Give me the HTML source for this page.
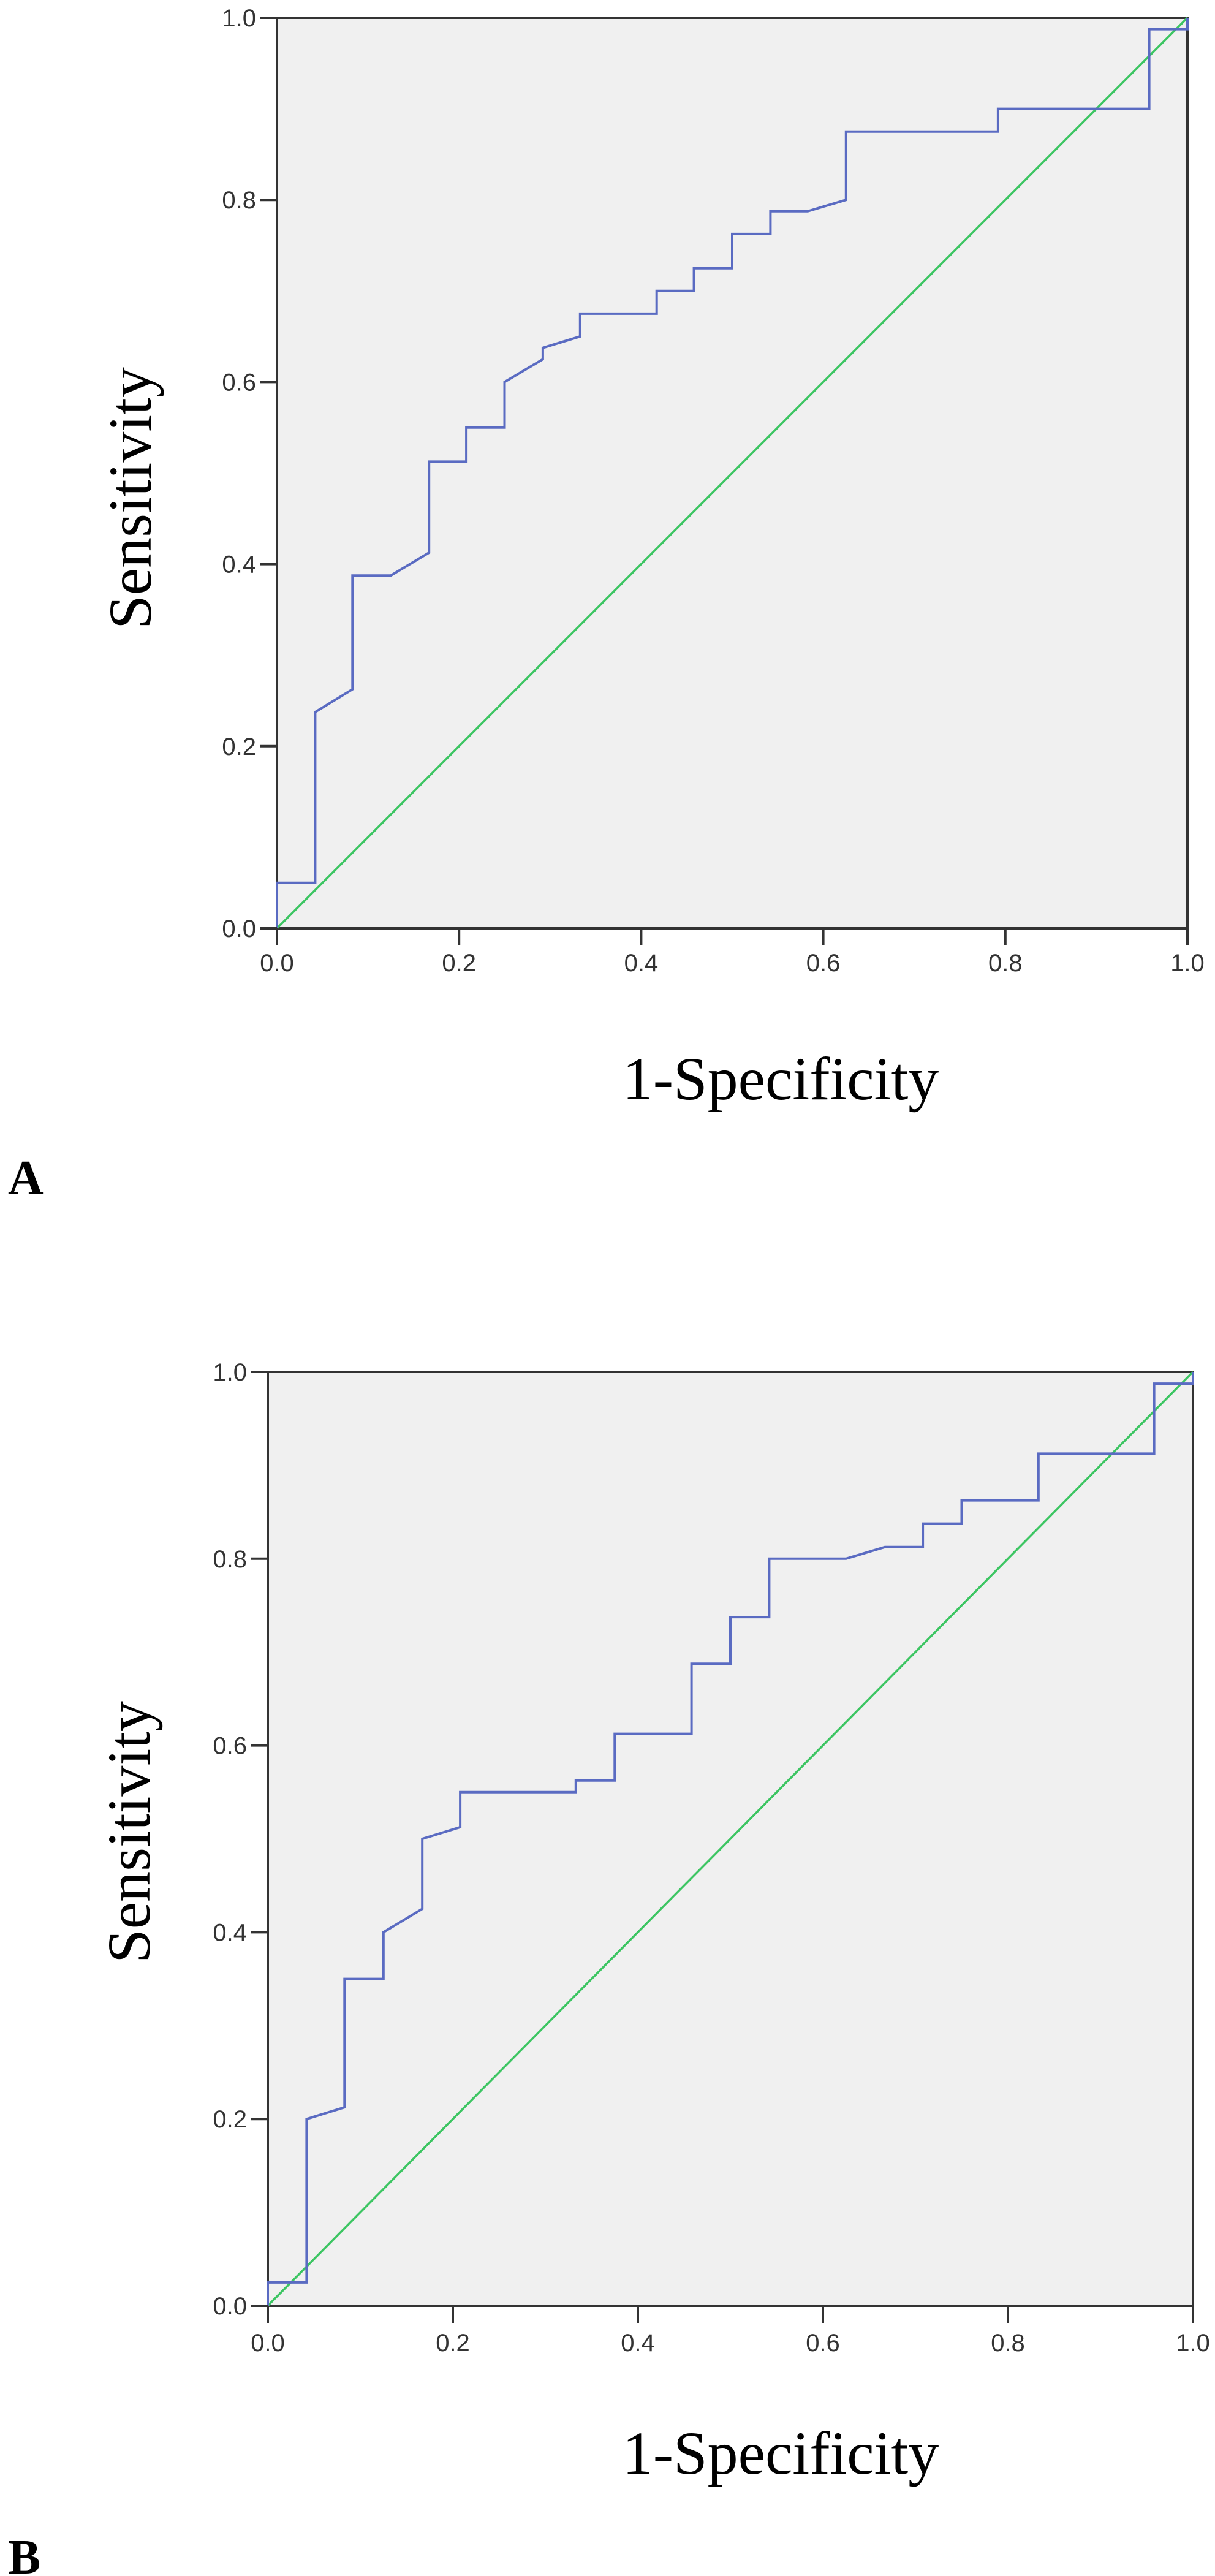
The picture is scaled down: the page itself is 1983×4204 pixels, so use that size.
<!DOCTYPE html>
<html><head><meta charset="utf-8"><style>
html,body{margin:0;padding:0;background:#fff;}
svg{display:block;}
</style></head><body>
<svg id="fig" width="1983" height="4204" viewBox="0 0 1983 4204" xmlns="http://www.w3.org/2000/svg"></svg>
<script>
// Chart A data
const ticksA = [0, 0.2, 0.4, 0.6, 0.8, 1.0];
const tickLabelsA = ["0.0", "0.2", "0.4", "0.6", "0.8", "1.0"];
const rocAx = [0,0,0.042,0.042,0.083,0.083,0.125,0.167,0.167,0.208,0.208,0.25,0.25,0.292,0.292,0.333,0.333,0.417,0.417,0.458,0.458,0.5,0.5,0.542,0.542,0.583,0.625,0.625,0.792,0.792,0.958,0.958,1,1];
const rocAy = [0,0.05,0.05,0.2375,0.2625,0.3875,0.3875,0.4125,0.5125,0.5125,0.55,0.55,0.6,0.625,0.6375,0.65,0.675,0.675,0.7,0.7,0.725,0.725,0.7625,0.7625,0.7875,0.7875,0.8,0.875,0.875,0.9,0.9,0.9875,0.9875,1];
// Chart B data
const ticksB = [0, 0.2, 0.4, 0.6, 0.8, 1.0];
const tickLabelsB = ["0.0", "0.2", "0.4", "0.6", "0.8", "1.0"];
const rocBx = [0,0,0.042,0.042,0.083,0.083,0.125,0.125,0.167,0.167,0.208,0.208,0.333,0.333,0.375,0.375,0.458,0.458,0.5,0.5,0.542,0.542,0.625,0.667,0.708,0.708,0.75,0.75,0.833,0.833,0.958,0.958,1,1];
const rocBy = [0,0.025,0.025,0.2,0.2125,0.35,0.35,0.4,0.425,0.5,0.5125,0.55,0.55,0.5625,0.5625,0.6125,0.6125,0.6875,0.6875,0.7375,0.7375,0.8,0.8,0.8125,0.8125,0.8375,0.8375,0.8625,0.8625,0.9125,0.9125,0.9875,0.9875,1];
const refX = [0, 1];
const refY = [0, 1];

const NS = "http://www.w3.org/2000/svg";
const svg = document.getElementById("fig");
function mk(tag, attrs, parent) {
  const e = document.createElementNS(NS, tag);
  for (const k in attrs) e.setAttribute(k, attrs[k]);
  (parent || svg).appendChild(e);
  return e;
}

function drawChart(id, L, R, T, B, ticks, labels, xs, ys, xTitle, yTitleX, yTitleY, panel, panelY, xLabBase) {
  const g = mk("g", {});
  
  
  const sx = v => L + v * (R - L);
  const sy = v => B - v * (B - T);
  const bg = mk("rect", {x: L, y: T, width: R - L, height: B - T, fill: "#f0f0f0", stroke: "#333", "stroke-width": 4}, g);
  
  
  // reference line
  const ref = mk("line", {x1: sx(refX[0]), y1: sy(refY[0]), x2: sx(refX[1]), y2: sy(refY[1]), stroke: "#3cc562", "stroke-width": 3.5}, g);
  
  
  // roc curve
  const pts = xs.map((x, i) => sx(x).toFixed(1) + "," + sy(ys[i]).toFixed(1)).join(" ");
  const curve = mk("polyline", {points: pts, fill: "none", stroke: "#5a6bc2", "stroke-width": 4, "stroke-linejoin": "miter"}, g);
  
  
  // axes ticks + labels
  ticks.forEach((t, i) => {
    const yt = mk("line", {x1: L - 28, y1: sy(t), x2: L, y2: sy(t), stroke: "#333", "stroke-width": 4}, g);
    
    
    const yl = mk("text", {x: L - 34, y: sy(t) + 14, "text-anchor": "end", "font-family": "Liberation Sans, Arial, sans-serif", "font-size": 40, fill: "#333"}, g);
    yl.textContent = labels[i];
    
    
    const xt = mk("line", {x1: sx(t), y1: B, x2: sx(t), y2: B + 28, stroke: "#333", "stroke-width": 4}, g);
    
    
    const xl = mk("text", {x: sx(t), y: B + xLabBase, "text-anchor": "middle", "font-family": "Liberation Sans, Arial, sans-serif", "font-size": 40, fill: "#333"}, g);
    xl.textContent = labels[i];
    
    
  });
  const xtTitle = mk("text", {x: 1274, y: xTitle, "text-anchor": "middle", "font-family": "Liberation Serif, Times New Roman, serif", "font-size": 100, fill: "#000"}, g);
  xtTitle.textContent = "1-Specificity";
  
  
  const ytTitle = mk("text", {x: 0, y: 0, transform: "translate(" + yTitleX + "," + yTitleY + ") rotate(-90)", "text-anchor": "middle", "font-family": "Liberation Serif, Times New Roman, serif", "font-size": 100, fill: "#000"}, g);
  ytTitle.textContent = "Sensitivity";
  
  
  const pl = mk("text", {x: 13, y: panelY, "font-family": "Liberation Serif, Times New Roman, serif", "font-size": 80, "font-weight": "bold", fill: "#000"}, g);
  pl.textContent = panel;
  
  
}

drawChart("a", 452, 1938, 29, 1515, ticksA, tickLabelsA, rocAx, rocAy, 1794, 246, 813, "A", 1949, 70);
drawChart("b", 437, 1947, 2239, 3763, ticksB, tickLabelsB, rocBx, rocBy, 4037, 244, 2990, "B", 4200, 74);
</script>
</body></html>
